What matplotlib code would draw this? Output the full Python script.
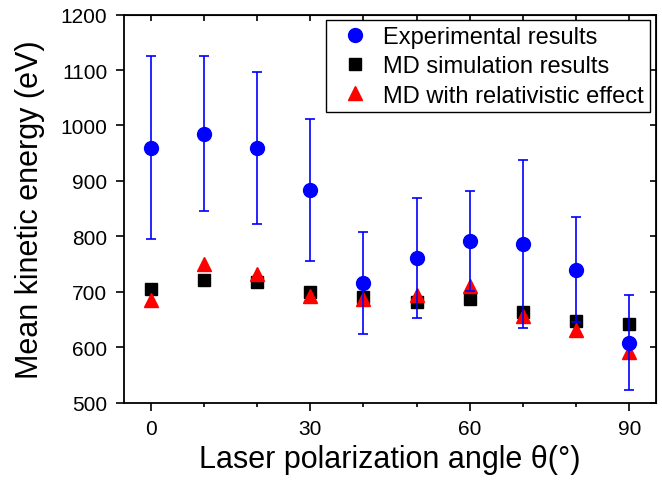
import matplotlib.pyplot as plt
from matplotlib.lines import Line2D
from matplotlib.ticker import MultipleLocator

plt.rcParams['font.family'] = ['Liberation Sans', 'DejaVu Sans']

# data
angles = [0, 10, 20, 30, 40, 50, 60, 70, 80, 90]
exp_mean = [959, 985, 959, 883, 715, 761, 791, 786, 740, 608]
exp_upper = [1125, 1125, 1096, 1011, 807, 869, 881, 937, 835, 694]
exp_lower = [795, 845, 823, 755, 623, 652, 701, 635, 646, 522]
md_sim = [705, 721, 717, 700, 690, 681, 687, 663, 647, 641]
md_rel = [685, 750, 732, 693, 687, 694, 711, 657, 631, 592]

err_low = [m - lo for m, lo in zip(exp_mean, exp_lower)]
err_high = [hi - m for m, hi in zip(exp_mean, exp_upper)]

fig = plt.figure(figsize=(6.62, 4.81), dpi=100)
ax = fig.add_axes([0.1873, 0.1609, 0.8037, 0.8067])

ax.plot(angles, md_sim, 's', color='black', markersize=8, zorder=2)
ax.plot(angles, md_rel, '^', color='red', markersize=10, zorder=3)
ax.errorbar(angles, exp_mean, yerr=[err_low, err_high], fmt='o', color='blue',
            markersize=10, elinewidth=1.2, capsize=3.5, capthick=1.2, zorder=4)

ax.set_xlim(-5, 95)
ax.set_ylim(500, 1200)
ax.xaxis.set_major_locator(MultipleLocator(30))
ax.xaxis.set_minor_locator(MultipleLocator(10))
ax.yaxis.set_major_locator(MultipleLocator(100))

ax.tick_params(axis='both', which='major', direction='out', length=6, width=1.2,
               labelsize=15, pad=6)
ax.tick_params(axis='x', which='minor', direction='out', length=3, width=1.2)
for s in ax.spines.values():
    s.set_linewidth(1.3)

# inward ticks on top and right
top = ax.secondary_xaxis('top')
top.set_xticks(angles)
top.tick_params(direction='in', length=4, width=1.2, labeltop=False)
right = ax.secondary_yaxis('right')
right.set_yticks(range(500, 1201, 100))
right.tick_params(direction='in', length=4, width=1.2, labelright=False)

ax.set_xlabel('Laser polarization angle θ(°)', fontsize=22, labelpad=4)
ax.set_ylabel('Mean kinetic energy (eV)', fontsize=22, labelpad=11)

handles = [
    Line2D([], [], marker='o', color='blue', linestyle='none', markersize=10),
    Line2D([], [], marker='s', color='black', linestyle='none', markersize=8),
    Line2D([], [], marker='^', color='red', linestyle='none', markersize=10),
]
labels = ['Experimental results', 'MD simulation results',
          'MD with relativistic effect']
leg = ax.legend(handles, labels, loc='upper right', fontsize=17,
                fancybox=False, framealpha=1, edgecolor='black',
                borderaxespad=0.25, handletextpad=0.2, labelspacing=0.3,
                borderpad=0.25, handlelength=2.0)
leg.get_frame().set_linewidth(1.0)

plt.savefig('out.png', dpi=100)
